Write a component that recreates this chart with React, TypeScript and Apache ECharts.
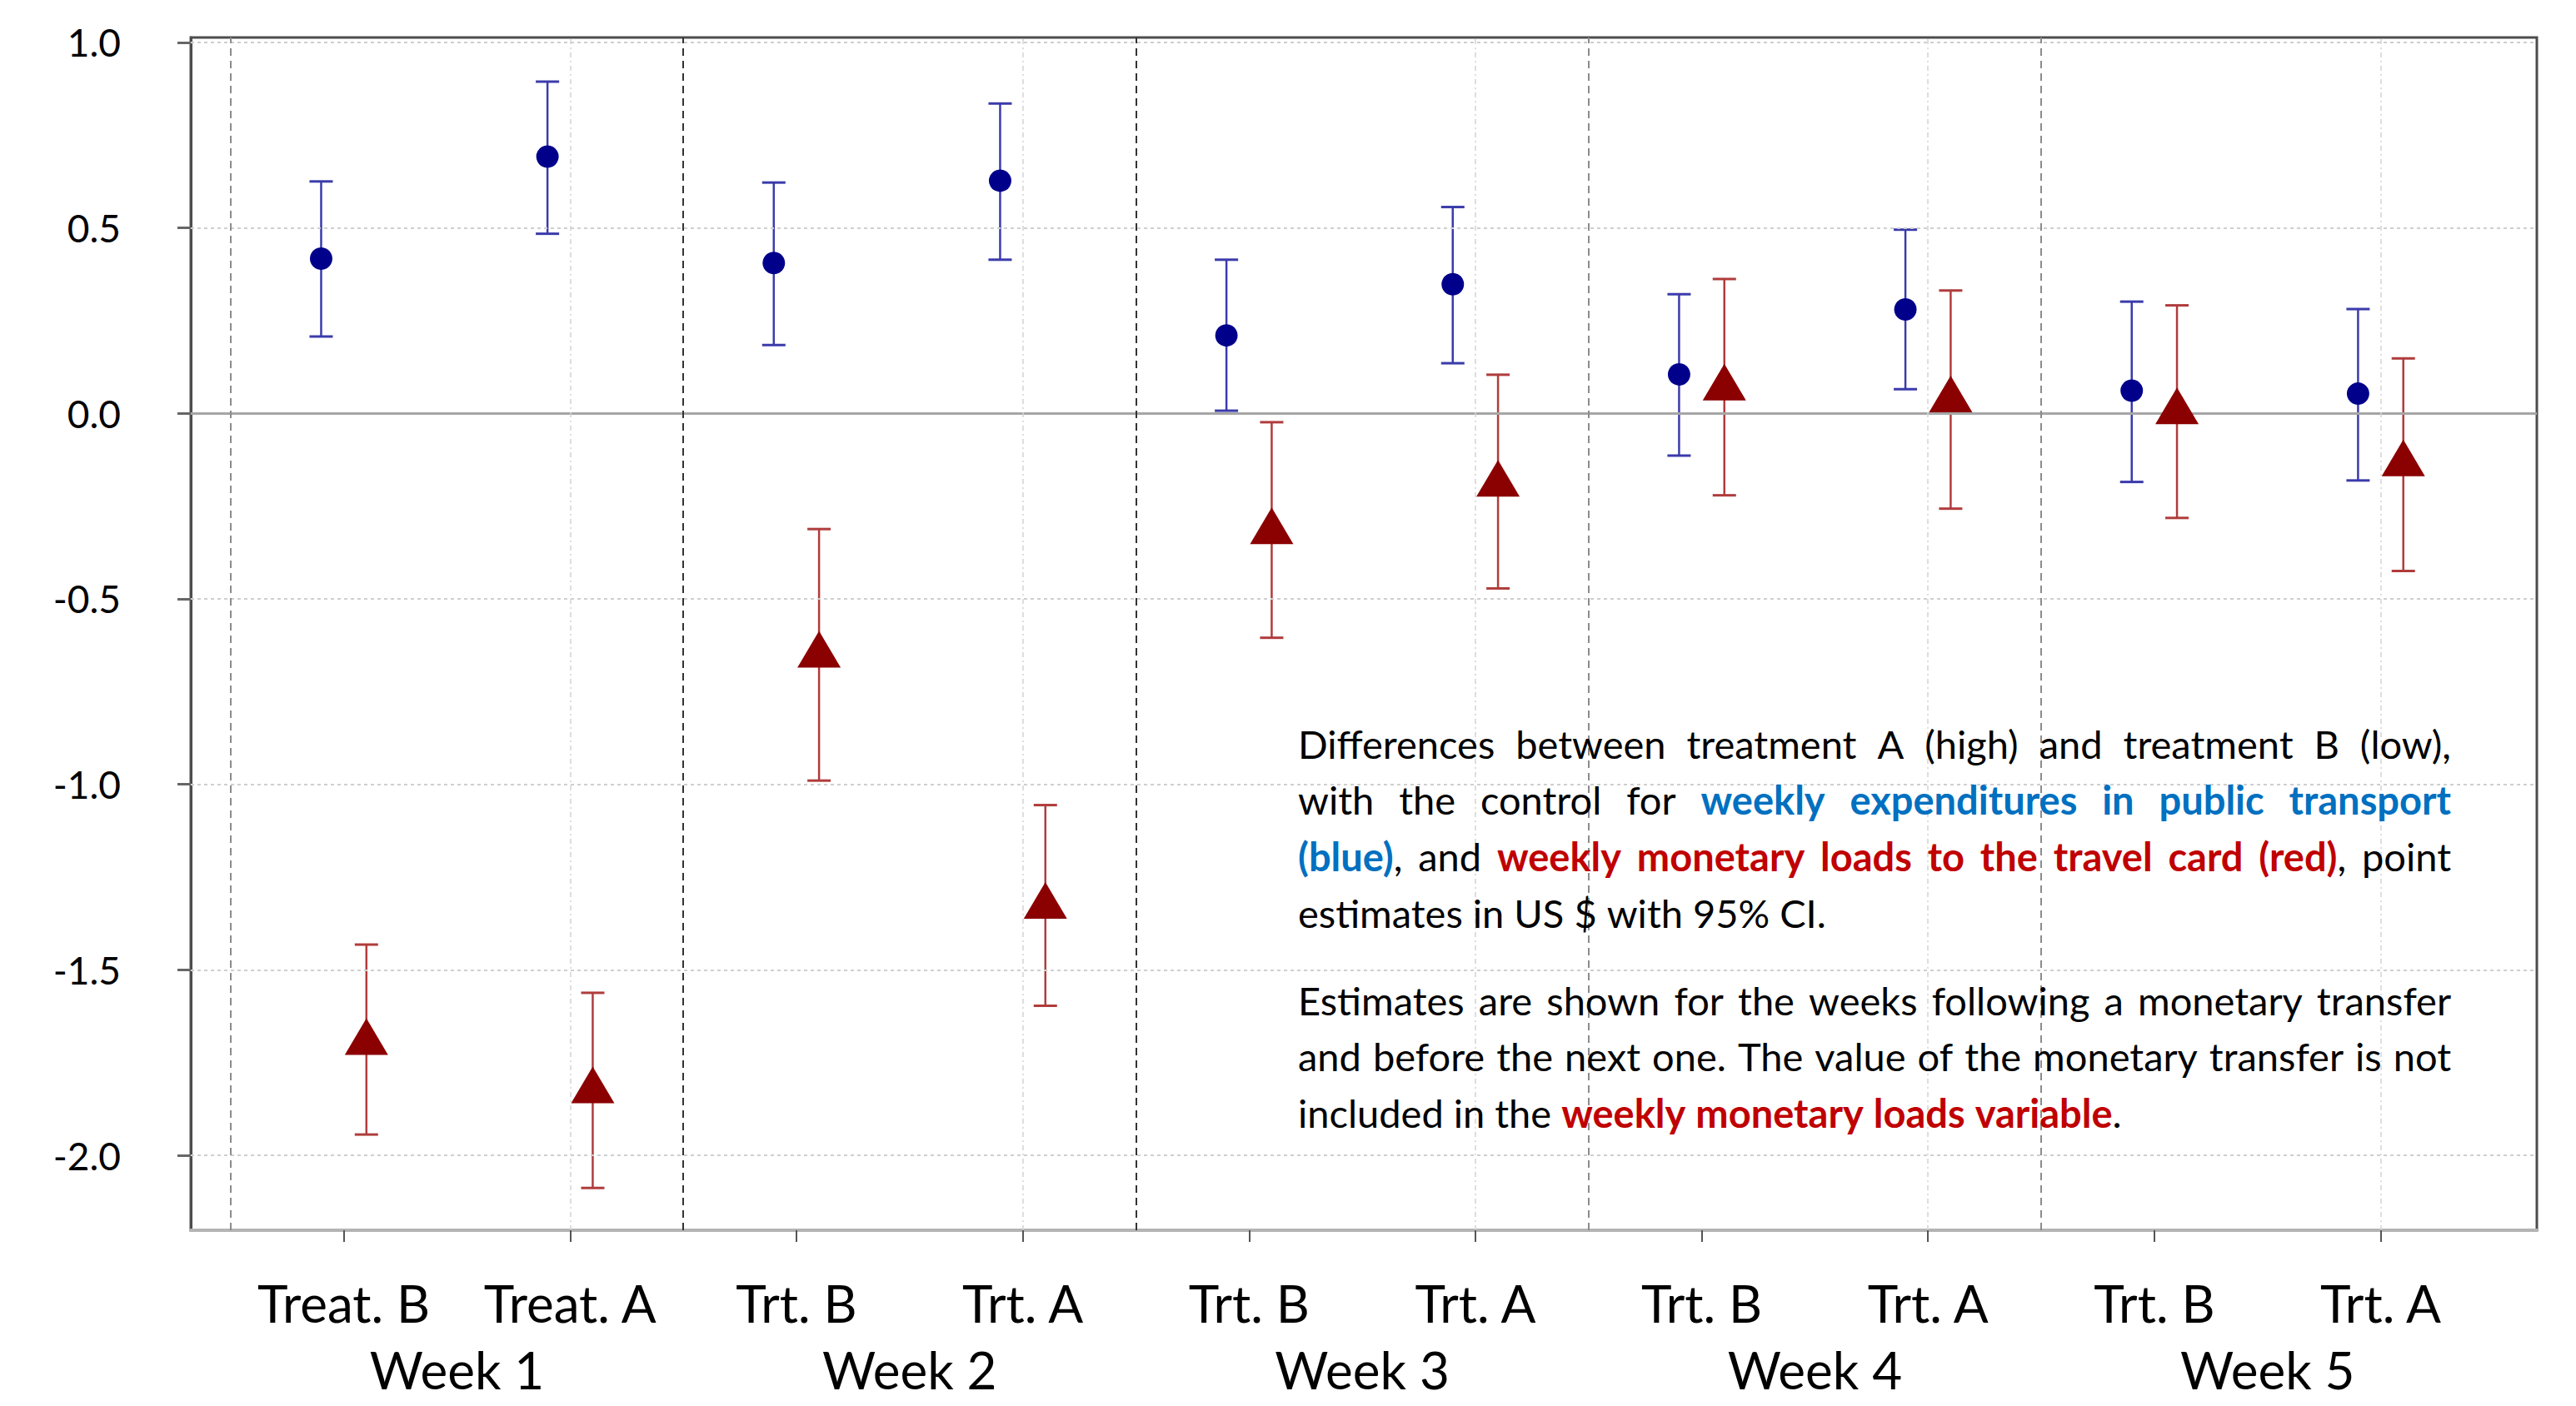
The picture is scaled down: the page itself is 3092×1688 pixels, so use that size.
import React, { useEffect, useRef } from "react";
import * as echarts from "echarts";

// ---------- data ----------
const categories = ["Treat. B", "Treat. A", "Trt. B", "Trt. A", "Trt. B", "Trt. A", "Trt. B", "Trt. A", "Trt. B", "Trt. A"];
const categoryPos = [1, 2, 3, 4, 5, 6, 7, 8, 9, 10];
const weekLabels = ["Week 1", "Week 2", "Week 3", "Week 4", "Week 5"];
const weekPos = [1.5, 3.5, 5.5, 7.5, 9.5];
const yTicks = [-2, -1.5, -1, -0.5, 0, 0.5, 1];
const weekSeparators = [0.5, 2.5, 4.5, 6.5, 8.5];
const treatALines = [2, 4, 6, 8, 10];

// weekly expenditures in public transport (blue)
const blueEst = [0.417, 0.692, 0.405, 0.627, 0.21, 0.348, 0.105, 0.28, 0.061, 0.053];
const blueLow = [0.207, 0.484, 0.184, 0.414, 0.007, 0.135, -0.114, 0.065, -0.185, -0.181];
const blueHigh = [0.625, 0.894, 0.622, 0.835, 0.414, 0.556, 0.321, 0.495, 0.301, 0.281];

// weekly monetary loads to the travel card (red)
const redEst = [-1.68, -1.81, -0.636, -1.313, -0.303, -0.175, 0.084, 0.052, 0.02, -0.12];
const redLow = [-1.944, -2.088, -0.99, -1.597, -0.605, -0.472, -0.221, -0.257, -0.282, -0.425];
const redHigh = [-1.432, -1.562, -0.312, -1.056, -0.024, 0.104, 0.362, 0.331, 0.291, 0.148];

type Kind = "k" | "b" | "r";
type Run = [string, Kind];
const noteLines: { runs: Run[]; justify: boolean; gapBefore?: boolean }[] = [
  { runs: [["Differences between treatment A (high) and treatment B (low),", "k"]], justify: true },
  { runs: [["with the control for ", "k"], ["weekly expenditures in public transport", "b"]], justify: true },
  { runs: [["(blue)", "b"], [", and ", "k"], ["weekly monetary loads to the travel card (red)", "r"], [", point", "k"]], justify: true },
  { runs: [["estimates in US $ with 95% CI.", "k"]], justify: false },
  { runs: [["Estimates are shown for the weeks following a monetary transfer", "k"]], justify: true, gapBefore: true },
  { runs: [["and before the next one. The value of the monetary transfer is not", "k"]], justify: true },
  { runs: [["included in the ", "k"], ["weekly monetary loads variable", "r"], [".", "k"]], justify: false },
];

// ---------- layout / style ----------
const W = 3092;
const H = 1688;
const X_MIN = 0.324;
const X_MAX = 10.69;
const Y_MIN = -2.202;
const Y_MAX = 1.013;
const OFFSET = 0.1;
const FONT = "Lato";
const BLUE_MARK = "#00008b";
const RED_MARK = "#8b0000";
const BLUE_BAR = "#3b3bab";
const RED_BAR = "#b03c3c";
const NOTE_LEFT = 1558;
const NOTE_RIGHT = 2942;
const NOTE_FIRST_BASELINE = 916;
const NOTE_LINE_STEP = 67.7;
const NOTE_PARA_GAP = 105;
const NOTE_FONT = 47;
const COLORS: Record<Kind, string> = { k: "#000000", b: "#0070c0", r: "#c00000" };

function buildNote(): any[] {
  const canvas = document.createElement("canvas");
  const ctx = canvas.getContext("2d")!;
  const fontOf = (kind: Kind, fs: number) => `${kind === "k" ? "normal" : "bold"} ${fs}px ${FONT}`;
  const measure = (t: string, kind: Kind, fs: number) => {
    ctx.font = fontOf(kind, fs);
    return ctx.measureText(t).width;
  };
  const toWords = (runs: Run[]) => {
    const words: Run[][] = [[]];
    runs.forEach(([text, kind]) => {
      const parts = text.split(" ");
      parts.forEach((p, i) => {
        if (i > 0) words.push([]);
        if (p.length) words[words.length - 1].push([p, kind]);
      });
    });
    return words.filter((w) => w.length > 0);
  };
  const avail = NOTE_RIGHT - NOTE_LEFT;
  let fs = NOTE_FONT;
  const natural = (words: Run[][], f: number) =>
    words.reduce((s, w) => s + w.reduce((a, [t, k]) => a + measure(t, k, f), 0), 0) +
    (words.length - 1) * measure(" ", "k", f) * 0.8;
  let maxW = 0;
  noteLines.forEach((l) => {
    maxW = Math.max(maxW, natural(toWords(l.runs), fs));
  });
  if (maxW > avail) fs = (fs * avail) / maxW;

  const els: any[] = [];
  let baseline = NOTE_FIRST_BASELINE;
  noteLines.forEach((line, li) => {
    if (li > 0) baseline += line.gapBefore ? NOTE_PARA_GAP : NOTE_LINE_STEP;
    const words = toWords(line.runs);
    const widths = words.map((w) => w.reduce((a, [t, k]) => a + measure(t, k, fs), 0));
    const sumW = widths.reduce((a, b) => a + b, 0);
    const gap = line.justify && words.length > 1 ? (avail - sumW) / (words.length - 1) : measure(" ", "k", fs);
    let x = NOTE_LEFT;
    words.forEach((w, wi) => {
      let cx = x;
      w.forEach(([t, k]) => {
        els.push({
          type: "text",
          x: cx,
          y: baseline,
          z: 100,
          silent: true,
          style: {
            text: t,
            fill: COLORS[k],
            font: fontOf(k, fs) + ", sans-serif",
            align: "left",
            verticalAlign: "bottom",
          },
        });
        cx += measure(t, k, fs);
      });
      x += widths[wi] + gap;
    });
  });
  return els;
}

function errorBars(low: number[], high: number[], offset: number, color: string) {
  return {
    type: "custom",
    silent: true,
    z: 3,
    data: categoryPos.map((p, i) => [p + offset, low[i], high[i]]),
    encode: { x: 0, y: [1, 2] },
    renderItem: (_params: any, api: any) => {
      const x = api.value(0);
      const lo = api.coord([x, api.value(1)]);
      const hi = api.coord([x, api.value(2)]);
      const hw = 14;
      return {
        type: "group",
        children: [
          { type: "line", shape: { x1: lo[0], y1: lo[1], x2: hi[0], y2: hi[1] }, style: { stroke: color, lineWidth: 2.5 } },
          { type: "line", shape: { x1: lo[0] - hw, y1: lo[1], x2: lo[0] + hw, y2: lo[1] }, style: { stroke: color, lineWidth: 3 } },
          { type: "line", shape: { x1: hi[0] - hw, y1: hi[1], x2: hi[0] + hw, y2: hi[1] }, style: { stroke: color, lineWidth: 3 } },
        ],
      };
    },
  };
}

function buildOption(): any {
  const gridLines: any[] = [];
  yTicks.forEach((v) => {
    gridLines.push({
      yAxis: v,
      lineStyle: v === 0 ? { color: "#a6a6a6", width: 3, type: "solid" } : { color: "#cfcfcf", width: 2, type: [4, 4] },
    });
  });
  weekSeparators.forEach((v) => {
    const dark = v === 2.5 || v === 4.5;
    gridLines.push({ xAxis: v, lineStyle: { color: dark ? "#333333" : "#8c8c8c", width: 2, type: [9, 6] } });
  });
  treatALines.forEach((v) => {
    gridLines.push({ xAxis: v, lineStyle: { color: "#d4d4d4", width: 1.5, type: [6, 4, 2, 4] } });
  });

  return {
    animation: false,
    backgroundColor: "#ffffff",
    textStyle: { fontFamily: FONT },
    grid: { left: 229, right: 47, top: 45, bottom: 211, show: true, borderColor: "#4d4d4d", borderWidth: 3 },
    xAxis: [
      {
        type: "value",
        min: X_MIN,
        max: X_MAX,
        position: "bottom",
        axisLine: { show: true, onZero: false, lineStyle: { color: "#b4b4b4", width: 4 } },
        axisTick: { show: true, customValues: categoryPos, length: 14, lineStyle: { color: "#555555", width: 2 } },
        axisLabel: {
          customValues: categoryPos,
          formatter: (v: number) => categories[Math.round(v) - 1],
          fontSize: 62,
          fontFamily: FONT,
          color: "#000000",
          margin: 56,
        },
        splitLine: { show: false },
      },
      {
        type: "value",
        min: X_MIN,
        max: X_MAX,
        position: "bottom",
        axisLine: { show: false, onZero: false },
        axisTick: { show: false },
        axisLabel: {
          customValues: weekPos,
          formatter: (v: number) => weekLabels[Math.round((v - 1.5) / 2)],
          fontSize: 62,
          fontFamily: FONT,
          color: "#000000",
          margin: 136,
        },
        splitLine: { show: false },
      },
    ],
    yAxis: {
      type: "value",
      min: Y_MIN,
      max: Y_MAX,
      axisLine: { show: true, onZero: false, lineStyle: { color: "#4d4d4d", width: 3 } },
      axisTick: { show: true, customValues: yTicks, length: 16, lineStyle: { color: "#666666", width: 3 } },
      axisLabel: {
        customValues: yTicks,
        formatter: (v: number) => v.toFixed(1),
        fontSize: 46,
        fontFamily: FONT,
        color: "#000000",
        margin: 84,
      },
      splitLine: { show: false },
    },
    graphic: buildNote(),
    series: [
      {
        type: "scatter",
        data: [],
        z: 1,
        silent: true,
        markLine: { silent: true, symbol: ["none", "none"], label: { show: false }, data: gridLines },
      },
      errorBars(blueLow, blueHigh, -OFFSET, BLUE_BAR),
      errorBars(redLow, redHigh, OFFSET, RED_BAR),
      {
        type: "scatter",
        z: 5,
        symbol: "circle",
        symbolSize: [27, 27],
        itemStyle: { color: BLUE_MARK, opacity: 1 },
        data: categoryPos.map((p, i) => [p - OFFSET, blueEst[i]]),
      },
      {
        type: "scatter",
        z: 5,
        symbol: "triangle",
        symbolSize: [52, 44],
        itemStyle: { color: RED_MARK, opacity: 1 },
        data: categoryPos.map((p, i) => [p + OFFSET, redEst[i]]),
      },
    ],
  };
}

export default function App() {
  const ref = useRef<HTMLDivElement>(null);
  useEffect(() => {
    const chart = echarts.init(ref.current!, null, { renderer: "svg" });
    chart.setOption(buildOption());
    return () => chart.dispose();
  }, []);
  return (
    <div
      ref={ref}
      style={{ position: "fixed", left: 0, top: 0, width: W, height: H, background: "#ffffff" }}
    />
  );
}
